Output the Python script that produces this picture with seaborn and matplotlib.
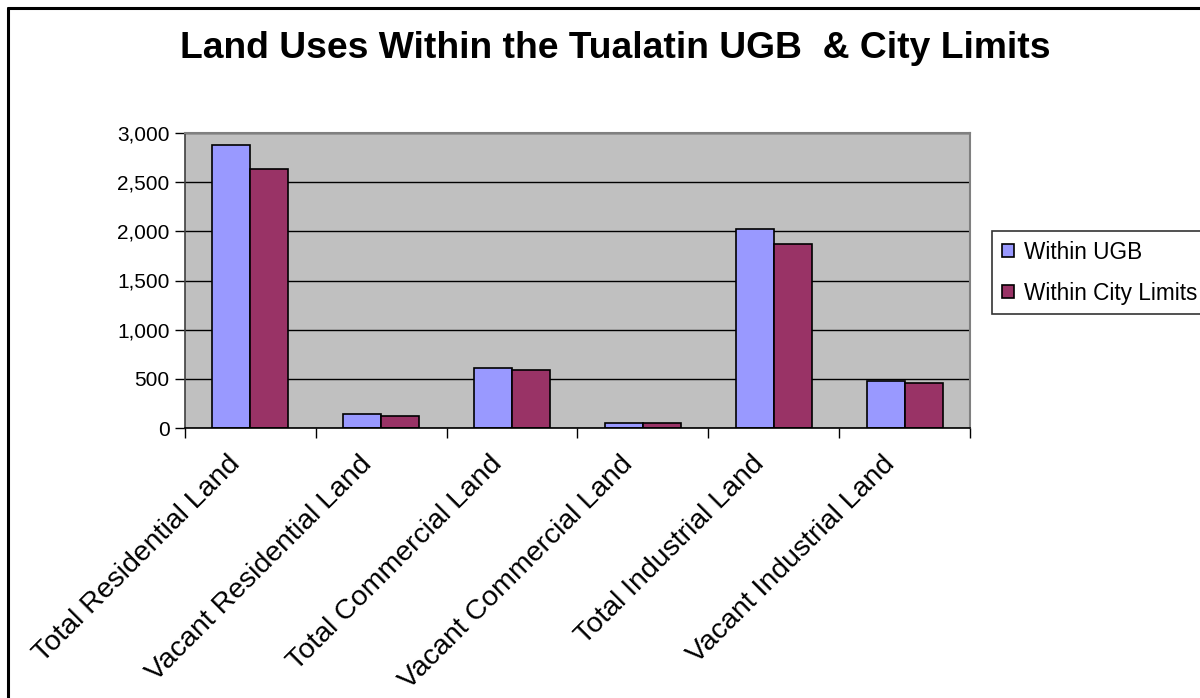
import matplotlib
matplotlib.use("Agg")
import matplotlib.pyplot as plt
import seaborn as sns
import pandas as pd
from matplotlib.ticker import FuncFormatter, FixedLocator
from matplotlib.lines import Line2D

categories = ["Total Residential Land", "Vacant Residential Land", "Total Commercial Land",
              "Vacant Commercial Land", "Total Industrial Land", "Vacant Industrial Land"]
series_names = ["Within UGB", "Within City Limits"]
ugb = [2880, 140, 610, 50, 2025, 480]
city = [2630, 120, 590, 48, 1870, 455]
colors = ["#9999FF", "#993366"]
yticks = [0, 500, 1000, 1500, 2000, 2500, 3000]

df = pd.DataFrame({
    "category": categories * 2,
    "series": [series_names[0]] * len(categories) + [series_names[1]] * len(categories),
    "value": ugb + city,
})

sns.set_theme(style="white")
plt.rcParams["font.family"] = ["Liberation Sans", "DejaVu Sans"]
plt.rcParams["text.color"] = "black"
plt.rcParams["xtick.color"] = "black"
plt.rcParams["ytick.color"] = "black"
plt.rcParams["axes.labelcolor"] = "black"

fig = plt.figure(figsize=(12, 6.98), dpi=100)
ax = fig.add_axes([185/1200, 1-428/698, (970-185)/1200, (428-133)/698])
ax.set_facecolor("#C0C0C0")

sns.barplot(data=df, x="category", y="value", hue="series", palette=colors,
            width=0.58, edgecolor="black", linewidth=1.2, saturation=1,
            order=categories, hue_order=series_names, ax=ax)

ax.set_xlim(-0.5, len(categories) - 0.5)
ax.set_ylim(0, 3000)
ax.set_yticks(yticks)
ax.yaxis.set_major_formatter(FuncFormatter(lambda v, p: f"{int(v):,}"))
ax.grid(axis="y", color="black", linewidth=1.0)
ax.set_axisbelow(True)
ax.set_xlabel("")
ax.set_ylabel("")

# category labels, nudged slightly left like the original
ax.set_xticks([i - 0.035 for i in range(len(categories))])
ax.set_xticklabels(categories, rotation=45, ha="right", va="bottom",
                   rotation_mode="anchor", fontsize=20.5, color="black")
ax.xaxis.set_minor_locator(FixedLocator([i - 0.5 for i in range(len(categories) + 1)]))
ax.tick_params(axis="x", which="major", length=0, pad=29.5)
ax.tick_params(axis="x", which="minor", length=7, width=1, color="black", direction="out", bottom=True)
ax.tick_params(axis="y", length=7, width=1, color="black", direction="out", left=True,
               labelsize=15, pad=4, labelcolor="black")

for s in ["top", "right"]:
    ax.spines[s].set_color("#808080")
    ax.spines[s].set_linewidth(1.5)
ax.spines["left"].set_color("#404040")
ax.spines["bottom"].set_color("black")
ax.spines["left"].set_linewidth(1.2)
ax.spines["bottom"].set_linewidth(1.2)

leg = ax.legend(loc="upper left", bbox_to_anchor=(992/1200, 1-231/698),
                bbox_transform=fig.transFigure, fontsize=16.3, frameon=True,
                fancybox=False, edgecolor="black", handlelength=0.55, handleheight=0.55,
                handletextpad=0.45, borderpad=0.42, labelspacing=0.8, borderaxespad=0)
leg.get_frame().set_linewidth(1.2)
for t in leg.get_texts():
    t.set_color("black")

fig.text(615/1200, 1-49/698, "Land Uses Within the Tualatin UGB  & City Limits",
         ha="center", va="center", fontsize=26.8, fontweight="bold", color="black")

fig.add_artist(Line2D([8/1200, 8/1200], [0, 1-8/698], color="black", linewidth=2.2,
                      transform=fig.transFigure))
fig.add_artist(Line2D([8/1200, 1], [1-8/698, 1-8/698], color="black", linewidth=2.2,
                      transform=fig.transFigure))

fig.savefig("out.png", dpi=100, facecolor="white")
